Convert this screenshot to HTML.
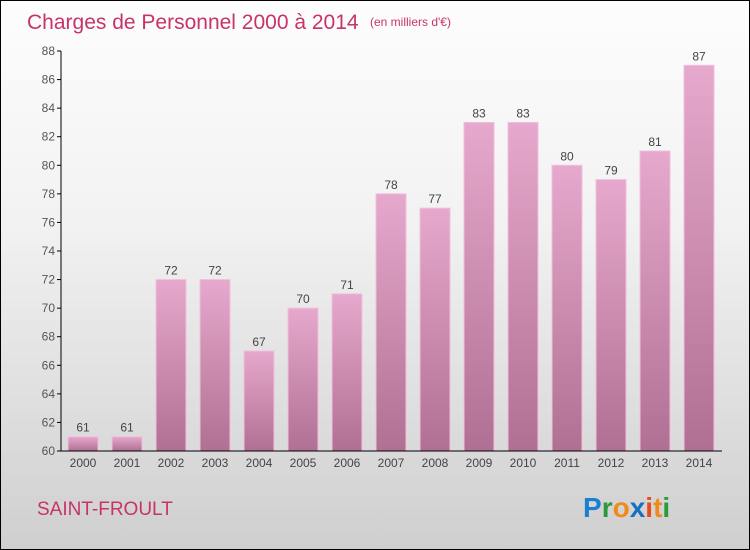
<!DOCTYPE html>
<html><head><meta charset="utf-8"><style>
body{margin:0}
#wrap{position:relative;width:748px;height:548px;border:1px solid #000;background:linear-gradient(#fdfdfd,#f2f2f2 40%,#cfcfcf);font-family:"Liberation Sans",sans-serif;overflow:hidden}
</style></head><body>
<div id="wrap">
<svg width="748" height="548" id="svg">
<defs><linearGradient id="bg" x1="0" y1="0" x2="0" y2="1"><stop offset="0" stop-color="#e6a8cc"/><stop offset="1" stop-color="#b07093"/></linearGradient></defs>
<text x="26" y="28" font-size="21" fill="#c8336a">Charges de Personnel 2000 à 2014</text>
<text x="369" y="25" font-size="12" fill="#c8336a">(en milliers d'€)</text>
<text x="36" y="514" font-size="19" fill="#c8336a">SAINT-FROULT</text>
<g font-size="28" font-weight="bold">
<text x="582" y="516"><tspan fill="#1a7fd0">P</tspan><tspan fill="#2a9a3a">r</tspan><tspan fill="#f08a1a">o</tspan><tspan fill="#1a6fc0">x</tspan><tspan fill="#e84a1a">i</tspan><tspan fill="#f08a1a">t</tspan><tspan fill="#2a9a3a">i</tspan></text>
</g>
<g id="plot"></g>
</svg>
</div>
<script>
const years=["2000","2001","2002","2003","2004","2005","2006","2007","2008","2009","2010","2011","2012","2013","2014"];
const values=[61,61,72,72,67,70,71,78,77,83,83,80,79,81,87];
const yTicks=[60,62,64,66,68,70,72,74,76,78,80,82,84,86,88];
const NS="http://www.w3.org/2000/svg";
const g=document.getElementById('plot');
const y=v=>450-(v-60)*400/28;
const x=i=>82+i*44;
function el(t,a){const e=document.createElementNS(NS,t);for(const k in a)e.setAttribute(k,a[k]);g.appendChild(e);return e;}
yTicks.forEach(t=>{
 const l=el('line',{x1:56,x2:60,y1:y(t),y2:y(t),stroke:'#000'});
 
 
 const tx=el('text',{x:54,y:y(t)+4,'text-anchor':'end','font-size':12,fill:'#555'});tx.textContent=t;
 
 
});
values.forEach((v,i)=>{
 const r=el('rect',{x:x(i)-15,y:y(v),width:30,height:450-y(v),fill:'url(#bg)',stroke:'#f0c0dc','stroke-width':1});
 
 
 const vt=el('text',{x:x(i),y:y(v)-5,'text-anchor':'middle','font-size':12,fill:'#444'});vt.textContent=v;
 
 
 const xt=el('text',{x:x(i),y:466,'text-anchor':'middle','font-size':12,fill:'#444'});xt.textContent=years[i];
 
 
});
const ya=el('line',{x1:60,x2:60,y1:50,y2:450,stroke:'#000'});


const xa=el('line',{x1:60,x2:721,y1:450,y2:450,stroke:'#000'});


</script>
</body></html>
